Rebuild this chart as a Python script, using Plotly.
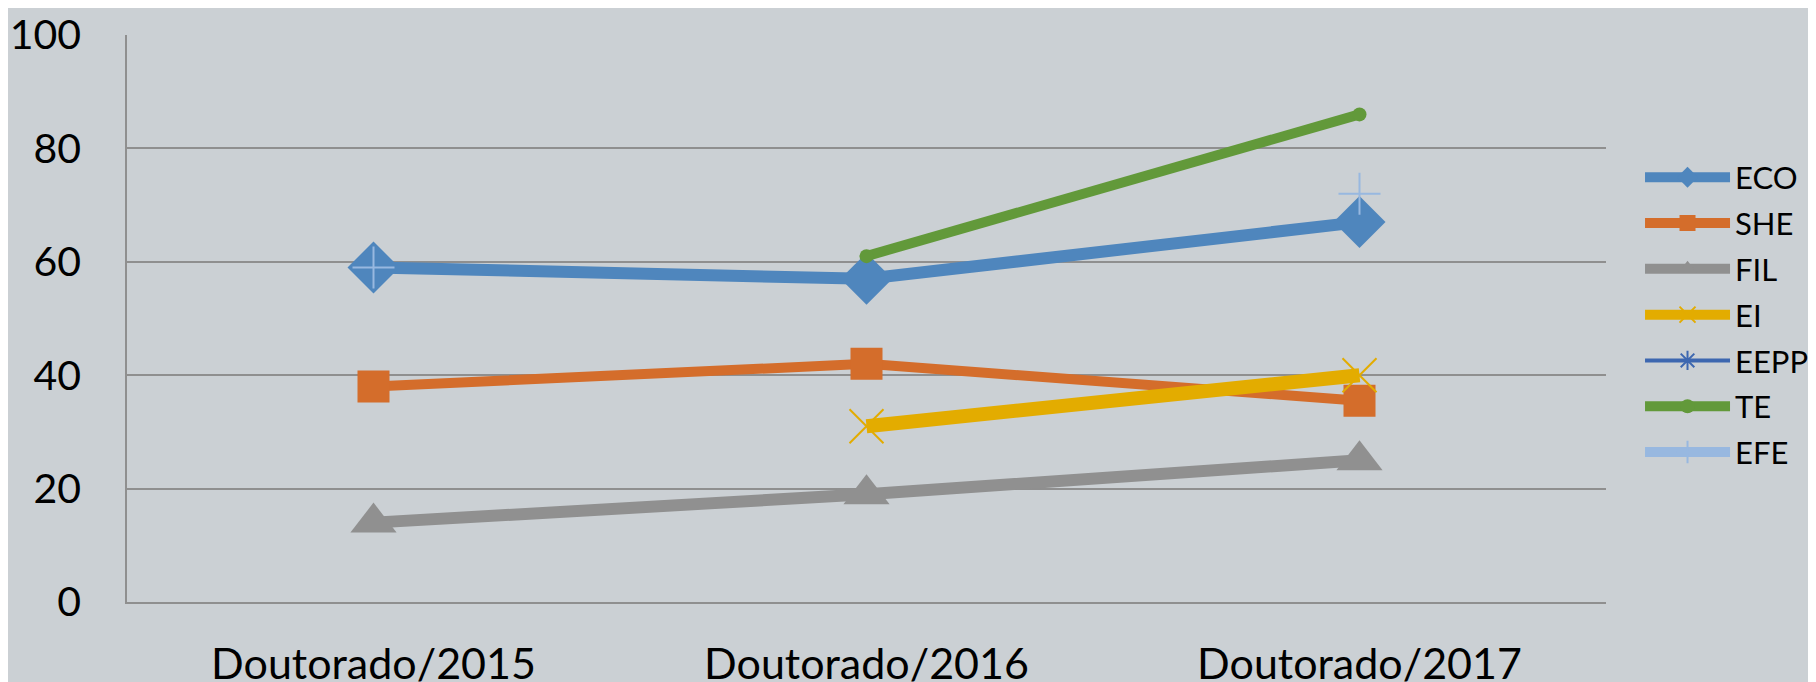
import plotly.graph_objects as go

categories = ["Doutorado/2015", "Doutorado/2016", "Doutorado/2017"]
eco = [59, 57, 67]
she = [38, 42, 35.5]
fil = [14, 19, 25]
ei = [None, 31, 40]
eepp = [None, None, None]
te = [None, 61, 86]
efe = [59, None, 72]
y_ticks = [0, 20, 40, 60, 80, 100]

FONT = "Lato"

series = [
    ("ECO", eco, "#4f86bd", 12, "diamond", 40, 0),
    ("SHE", she, "#d46d2b", 10, "square", 32, 0),
    ("FIL", fil, "#909090", 12, "triangle-up", 40, 0),
    ("EI", ei, "#e3ac00", 14, "x-thin-open", 34, 2),
    ("EEPP", eepp, "#3d67b0", 4, "asterisk-open", 20, 2),
    ("TE", te, "#62993a", 10, "circle", 14, 0),
    ("EFE", efe, "#98b8e0", 12, "cross-thin-open", 30, 2),
]

fig = go.Figure()
for name, vals, color, lw, sym, ms, mlw in series:
    fig.add_trace(go.Scatter(
        x=categories, y=vals, name=name, mode="lines+markers",
        legendgroup=name,
        line=dict(color=color, width=lw),
        marker=dict(symbol=sym, size=ms, color=color,
                    line=dict(color=color, width=mlw)),
        connectgaps=False,
    ))

fig.update_layout(
    width=1816, height=682,
    paper_bgcolor="#cbd0d4", plot_bgcolor="#cbd0d4",
    margin=dict(l=119, r=218, t=27, b=88, autoexpand=False),
    font=dict(family=FONT, color="#000000"),
    legend=dict(x=1.023, y=0.506, yanchor="middle", xanchor="left",
                font=dict(size=31, family=FONT), tracegroupgap=2.5,
                itemwidth=85, bgcolor="rgba(0,0,0,0)"),
    showlegend=True,
)
fig.update_xaxes(
    type="category", range=[-0.5, 2.5], showgrid=False, automargin=False,
    showline=True, linecolor="#8f8f8f", linewidth=1.5,
    tickfont=dict(size=43, family=FONT), ticklabelstandoff=24,
    ticks="",
)
fig.update_yaxes(
    range=[0, 100], tickvals=y_ticks, showgrid=True, gridcolor="#8f8f8f",
    gridwidth=1.5, showline=True, linecolor="#8f8f8f", linewidth=1.5,
    tickfont=dict(size=41, family=FONT), ticklabelstandoff=36,
    zeroline=False, ticks="", automargin=False,
)
fig.write_html("out.html")
